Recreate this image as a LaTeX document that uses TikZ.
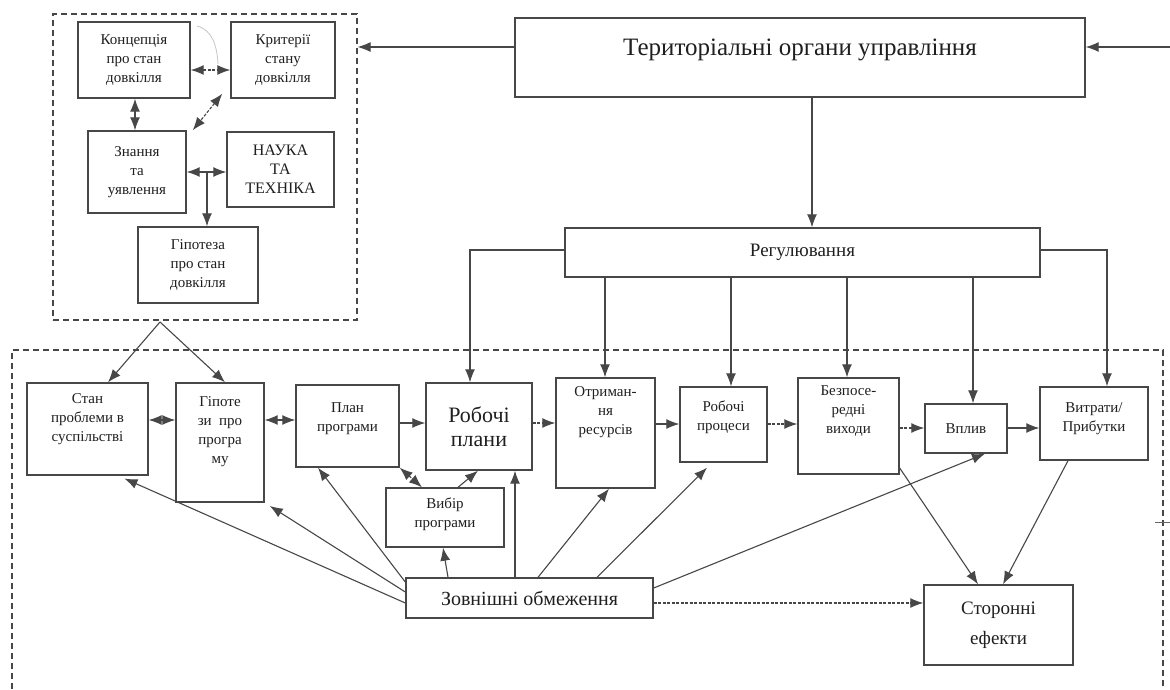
\documentclass[tikz,border=0pt]{standalone}
\usepackage{fontspec}
\setmainfont{Liberation Serif}
\usetikzlibrary{arrows.meta}
\newcommand{\padbot}[1]{\\[#1]\mbox{}}
\begin{document}
\begin{tikzpicture}[x=1pt,y=-1pt,
  box/.style={draw=black!72, line width=1.4pt, rectangle, inner sep=0pt, align=center, text=black!88, font=\fontsize{15}{19}\selectfont},
  wh/.style 2 args={minimum width=#1pt, minimum height=#2pt},
  grp/.style={draw=black!72, line width=1.2pt, dash pattern=on 6pt off 4pt},
  arr/.style={draw=black!72, line width=1.1pt, -{Latex[length=13pt,width=10pt]}},
  darr/.style={draw=black!72, line width=1.1pt, {Latex[length=13pt,width=10pt]}-{Latex[length=13pt,width=10pt]}},
  fine/.style={dash pattern=on 3pt off 1.5pt},
]
\fill[white] (0,0) rectangle (1170,689);
\useasboundingbox (0,0) rectangle (1170,689);

% top-left group
\node[grp, rectangle, inner sep=0pt, wh={304}{306}] (grpA) at (205,167) {};
\node[box, wh={112}{76}] (konc) at (134,60) {Концепція\\про стан\\довкілля};
\node[box, wh={104}{76}] (krit) at (283,60) {Критерії\\стану\\довкілля};
\node[box, wh={98}{82}] (znan) at (137,172) {Знання\\та\\уявлення};
\node[box, wh={107}{75}, font=\fontsize{16}{19}\selectfont] (nauka) at (280.5,169.5) {НАУКА\\ТА\\ТЕХНІКА};
\node[box, wh={120}{76}] (gip1) at (198,265) {Гіпотеза\\про стан\\довкілля};

% top right
\node[box, wh={570}{79}, font=\fontsize{25}{30}\selectfont] (ter) at (800,57.5) {Територіальні органи управління\padbot{-10pt}};
\node[box, wh={475}{49}, font=\fontsize{19}{22}\selectfont] (reg) at (802.5,252.5) {Регулювання};

% bottom group
\draw[grp] (12,689) -- (12,350) -- (1163,350) -- (1163,689);

\node[box, wh={121}{92}] (stan) at (87.5,429) {Стан\\проблеми в\\суспільстві\padbot{3pt}};
\node[box, wh={88}{119}] (gip2) at (220,442.5) {Гіпоте\\зи~~про\\програ\\му\padbot{5pt}};
\node[box, wh={103}{82}] (plan) at (347.5,426) {План\\програми\padbot{-1pt}};
\node[box, wh={106}{87}, font=\fontsize{22}{24}\selectfont] (rob) at (479,426.5) {Робочі\\плани};
\node[box, wh={99}{110}] (otr) at (605.5,433) {Отриман-\\ня\\ресурсів\padbot{26pt}};
\node[box, wh={87}{75}] (proc) at (723.5,424.5) {Робочі\\процеси\padbot{-1pt}};
\node[box, wh={101}{96}] (bez) at (848.5,426) {Безпосе-\\редні\\виходи\padbot{13pt}};
\node[box, wh={82}{49}] (vpl) at (966,428.5) {Вплив};
\node[box, wh={108}{73}] (vyt) at (1094,423.5) {Витрати/\\Прибутки\padbot{-7pt}};
\node[box, wh={118}{59}] (vyb) at (445,517.5) {Вибір\\програми\padbot{-9pt}};
\node[box, wh={247}{40}, font=\fontsize{20}{22}\selectfont] (zovn) at (529.5,598) {Зовнішні обмеження};
\node[box, wh={149}{80}, font=\fontsize{19}{30}\selectfont] (stor) at (998.5,625) {Сторонні\\ефекти};

% connectors in top group
\draw[darr,fine] (konc.east |- 0,70) -- (krit.west |- 0,70);
\draw[darr] (konc.south -| 135,0) -- (znan.north -| 135,0);
\draw[darr,fine] ([xshift=-8pt,yshift=5pt]krit.south west) -- ([xshift=6pt]znan.north east);
\draw[darr] (znan.east |- 0,172) -- (nauka.west |- 0,172);
\coordinate (jn) at (207,172);
\draw[arr] (jn) -- (gip1.north -| jn);
\draw[gray!45, line width=0.8pt] (197,26) .. controls (212,30) and (217,45) .. (218,64);

% top right connectors
\draw[arr] (ter.west |- 0,47) -- (grpA.east |- 0,47);
\coordinate (rin) at (1170,47);
\draw[arr] (rin) -- (ter.east |- rin);
\draw[arr] (ter.south -| 812,0) -- (reg.north -| 812,0);
\draw[arr] (reg.west |- 0,250) -| (rob.north -| 470,0);
\draw[arr] (reg.east |- 0,250) -| (vyt.north -| 1107,0);
\foreach \x/\n in {605/otr,731/proc,847/bez,973/vpl}
  \draw[arr] (reg.south -| \x,0) -- (\n.north -| \x,0);

% from hypothesis group down
\coordinate (apex) at (160,322);
\draw[arr] (apex) -- (stan.north -| 108,0);
\draw[arr] (apex) -- (gip2.north -| 225,0);

% row
\draw[darr] (stan.east |- 0,420) -- (gip2.west |- 0,420);
\draw[darr] (gip2.east |- 0,420) -- (plan.west |- 0,420);
\draw[arr] (plan.east |- 0,423) -- (rob.west |- 0,423);
\draw[arr,fine] (rob.east |- 0,423) -- (otr.west |- 0,423);
\draw[arr] (otr.east |- 0,424) -- (proc.west |- 0,424);
\draw[arr,fine] (proc.east |- 0,424) -- (bez.west |- 0,424);
\draw[arr,fine] (bez.east |- 0,428) -- (vpl.west |- 0,428);
\draw[arr] (vpl.east |- 0,428) -- (vyt.west |- 0,428);

\draw[darr,fine] (plan.south east) -- (vyb.north -| 422,0);
\draw[arr] (vyb.north -| 458,0) -- (rob.south -| 478,0);

% external constraints
\draw[arr] (zovn.north -| 448,0) -- (vyb.south -| 443,0);
\draw[arr] (zovn.north -| 515,0) -- (rob.south -| 515,0);
\draw[arr] (zovn.north -| 538,0) -- (otr.south -| 609,0);
\draw[arr,shorten >=7pt] (zovn.north -| 597,0) -- (proc.south -| 712,0);
\draw[arr] (zovn.east |- 0,588) -- (vpl.south -| 985,0);
\draw[arr] (zovn.west |- 0,582) -- (plan.south -| 318,0);
\draw[arr,shorten >=6pt] (zovn.west |- 0,592) -- (gip2.south east);
\draw[arr,shorten >=7pt] (zovn.west |- 0,603) -- (stan.south -| 118,0);
\draw[arr,fine] (zovn.east |- 0,603) -- (stor.west |- 0,603);
\draw[arr] (bez.east |- 0,468) -- (stor.north -| 978,0);
\draw[arr] (vyt.south -| 1068,0) -- (stor.north -| 1003,0);

\coordinate (stubA) at (1155,522);
\coordinate (stubB) at (1170,522);
\draw[line width=0.8pt, black!60] (stubA) -- (stubB);
\end{tikzpicture}
\end{document}
